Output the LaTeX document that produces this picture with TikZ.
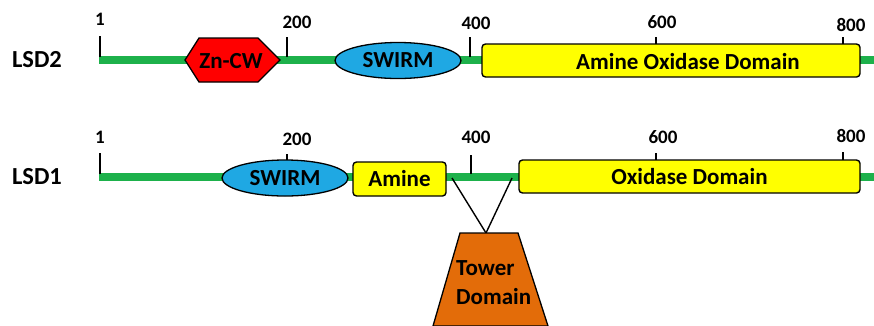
\documentclass[tikz,border=0pt]{standalone}
\usepackage{fontspec}
\setmainfont{Carlito}
\usetikzlibrary{shapes.geometric}
\definecolor{bbgreen}{HTML}{1DB14B}
\definecolor{swblue}{HTML}{1FA8E3}
\definecolor{tworange}{HTML}{E36C09}
\definecolor{boxyellow}{HTML}{FFFF00}
\definecolor{hexred}{HTML}{FF0000}
\begin{document}
\begin{tikzpicture}[x=1pt,y=-1pt,
  backbone/.style={line width=8pt, draw=bbgreen},
  tickmark/.style={line width=1.5pt, draw=black},
  num/.style={font=\bfseries\fontsize{19}{21}\selectfont, inner sep=0pt},
  rowlabel/.style={font=\bfseries\fontsize{24.5}{27}\selectfont, inner sep=0pt},
  dtext/.style={font=\bfseries\fontsize{23}{26}\selectfont, inner sep=0pt},
  ybox/.style={draw=black, line width=1.4pt, fill=boxyellow, rounded corners=3.5pt, inner sep=0pt},
  swirm/.style={ellipse, draw=black, line width=1.3pt, fill=swblue, inner sep=0pt, minimum width=126pt, minimum height=36pt, font=\bfseries\fontsize{23}{26}\selectfont},
  link/.style={line width=1.4pt, draw=black}
]
\useasboundingbox (0,0) rectangle (874,325);
\fill[white] (0,0) rectangle (874,325);

% ---------------- LSD2 ----------------
\node[rowlabel] (lsd2) at (37,60) {LSD2};
\coordinate (b2s) at (99,60);
\coordinate (b2e) at (874,60);
\draw[backbone] (b2s) -- (b2e);
% ticks
\coordinate (t2a) at (100,36);  \coordinate (t2ab) at (100,57);
\coordinate (t2b) at (287,37);  \coordinate (t2bb) at (287,57);
\coordinate (t2c) at (470,37);  \coordinate (t2cb) at (470,57);
\coordinate (t2d) at (656,37);  \coordinate (t2db) at (656,46);
\coordinate (t2e) at (843,37);  \coordinate (t2eb) at (843,46);
\draw[tickmark] (t2a) -- (t2ab);
\draw[tickmark] (t2b) -- (t2bb);
\draw[tickmark] (t2c) -- (t2cb);
\draw[tickmark] (t2d) -- (t2db);
\draw[tickmark] (t2e) -- (t2eb);
\node[num] (n2a) at (100,19) {1};
\node[num] (n2b) at (297,22) {200};
\node[num] (n2c) at (476,23) {400};
\node[num] (n2d) at (662,22) {600};
\node[num] (n2e) at (851,25) {800};
% Zn-CW hexagon
\draw[draw=black, line width=1.3pt, fill=hexred]
  (185,60) -- (199,38) -- (258,38) -- (280,60) -- (258,82) -- (199,82) -- cycle;
\node[dtext] (zncw) at (231,61) {Zn-CW};
% SWIRM
\node[swirm] (sw2) at (398,60.5) {SWIRM};
% Amine Oxidase Domain
\node[ybox, minimum width=378pt, minimum height=33pt] (aod2) at (671,60.5) {};
\node[dtext] (aod2t) at (688,62) {Amine Oxidase Domain};

% ---------------- LSD1 ----------------
\node[rowlabel] (lsd1) at (37,177) {LSD1};
\coordinate (b1s) at (99,177);
\coordinate (b1e) at (874,177);
\draw[backbone] (b1s) -- (b1e);
\coordinate (t1a) at (100,153);  \coordinate (t1ab) at (100,174);
\coordinate (t1b) at (287,154);  \coordinate (t1bb) at (287,162);
\coordinate (t1c) at (471,155);  \coordinate (t1cb) at (471,174);
\coordinate (t1d) at (656,153);  \coordinate (t1db) at (656,162);
\coordinate (t1e) at (843,152);  \coordinate (t1eb) at (843,162);
\draw[tickmark] (t1a) -- (t1ab);
\draw[tickmark] (t1b) -- (t1bb);
\draw[tickmark] (t1c) -- (t1cb);
\draw[tickmark] (t1d) -- (t1db);
\draw[tickmark] (t1e) -- (t1eb);
\node[num] (n1a) at (100,137) {1};
\node[num] (n1b) at (297,139) {200};
\node[num] (n1c) at (476,137) {400};
\node[num] (n1d) at (663,137) {600};
\node[num] (n1e) at (851,136) {800};
% SWIRM
\node[swirm] (sw1) at (285,178) {SWIRM};
% Amine
\node[ybox, minimum width=93pt, minimum height=34pt, font=\bfseries\fontsize{23}{26}\selectfont] (am1) at (399.5,179) {Amine};
% Oxidase Domain
\node[ybox, minimum width=341pt, minimum height=33pt, font=\bfseries\fontsize{23}{26}\selectfont] (ox1) at (689.5,176.5) {Oxidase Domain};

% ---------------- Tower ----------------
\coordinate (tl) at (452,178);
\coordinate (tr) at (512,178);
\coordinate (apex) at (486,233);
\draw[link] (tl) -- (apex) -- (tr);
\draw[draw=black, line width=1.3pt, fill=tworange]
  (460,233) -- (518,233) -- (548,326) -- (433,326) -- cycle;
\node[dtext, anchor=west, align=left] (tower) at (456,283) {Tower\\[3pt]Domain};
\end{tikzpicture}
\end{document}
